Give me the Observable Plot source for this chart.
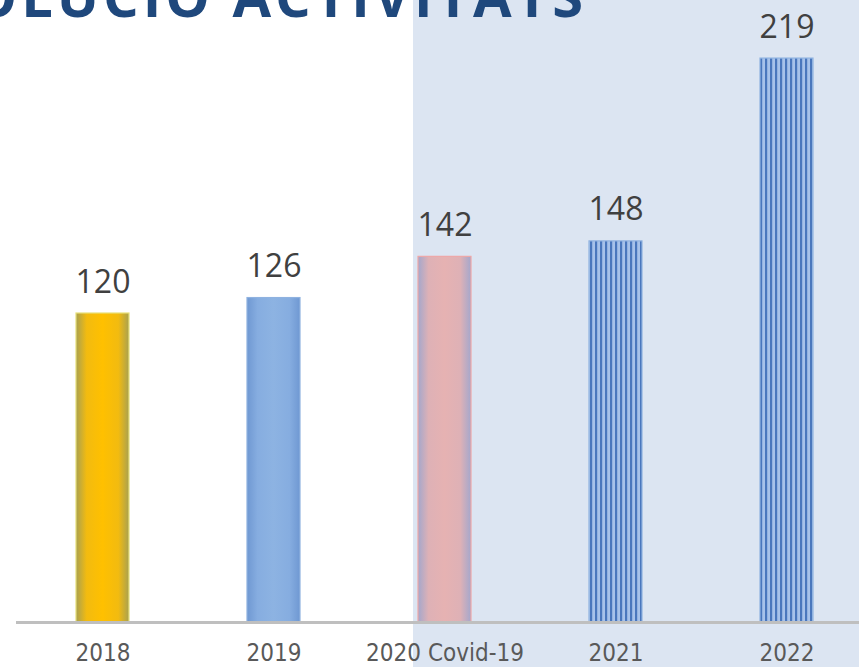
<!DOCTYPE html>
<html><head><meta charset="utf-8">
<script src="https://cdn.jsdelivr.net/npm/d3@7"></script>
<script src="https://cdn.jsdelivr.net/npm/@observablehq/plot@0.6"></script>
<style>
body{margin:0;}
#wrap{position:relative;width:859px;height:667px;overflow:hidden;background:linear-gradient(to right,#ffffff 0,#ffffff 413px,#dce5f2 413px);}
#title{position:absolute;top:-33px;right:272px;white-space:nowrap;font-family:"Open Sans",sans-serif;font-weight:700;font-size:56px;line-height:56px;letter-spacing:4px;color:#1f487c;}
#chart{position:absolute;left:0;top:0;}
</style></head><body>
<div id="wrap"><div id="title">EVOLUCIÓ ACTIVITATS</div><div id="chart"></div></div>
<script>
const years = ["2018", "2019", "2020 Covid-19", "2021", "2022"];
const activitats = [120, 126, 142, 148, 219];
const barFills = ["url(#f2018)", "url(#f2019)", "url(#f2020)", "url(#stripes)", "url(#stripes)"];
const barStrokes = ["#e8e07a", "#8fb2e0", "#eea7a7", "#8fb2e0", "#8fb2e0"];

const data = years.map((year, i) => ({year, value: activitats[i], fill: barFills[i], stroke: barStrokes[i]}));

const chart = Plot.plot({
  width: 859,
  height: 667,
  marginTop: 4,
  marginBottom: 45,
  marginLeft: 16,
  marginRight: 0,
  style: {background: "transparent", overflow: "visible"},
  x: {domain: years, range: [-45, 934], padding: 0.692, label: null},
  y: {domain: [0, 240], axis: null},
  color: {type: "identity"},
  marks: [
    Plot.barY(data, {x: "year", y: "value", fill: "fill", stroke: "stroke", strokeWidth: 1.2}),
    Plot.ruleY([0], {stroke: "#bfbfbf", strokeWidth: 3}),
    Plot.text(data, {x: "year", y: "value", text: d => String(d.value), lineAnchor: "bottom", dy: -21, fontSize: 32, fill: "#404040", fontFamily: "Open Sans"}),
    Plot.axisX({tickSize: 0, tickPadding: 21, fontSize: 24, fontFamily: "'Liberation Sans Narrow', 'DejaVu Sans Condensed', sans-serif", color: "#595959"})
  ]
});

const defs = d3.select(chart).insert("defs", ":first-child");
function hGrad(id, edge, mid, center) {
  const g = defs.append("linearGradient").attr("id", id).attr("x1", 0).attr("x2", 1).attr("y1", 0).attr("y2", 0);
  [[0, edge], [0.2, mid], [0.5, center], [0.8, mid], [1, edge]].forEach(([o, c]) => g.append("stop").attr("offset", o).attr("stop-color", c));
}
hGrad("f2018", "#a9a150", "#f2bb10", "#ffc000");
hGrad("f2019", "#6f98d2", "#86ade0", "#8db3e2");
hGrad("f2020", "#a4a7cc", "#deb1b6", "#e6b2b2");
const p = defs.append("pattern").attr("id", "stripes").attr("patternUnits", "userSpaceOnUse").attr("width", 5).attr("height", 10);
p.append("rect").attr("width", 5).attr("height", 10).attr("fill", "#a7c2ea");
p.append("rect").attr("width", 2.2).attr("height", 10).attr("fill", "#4a77bd");

document.getElementById("chart").append(chart);
</script>
</body></html>
